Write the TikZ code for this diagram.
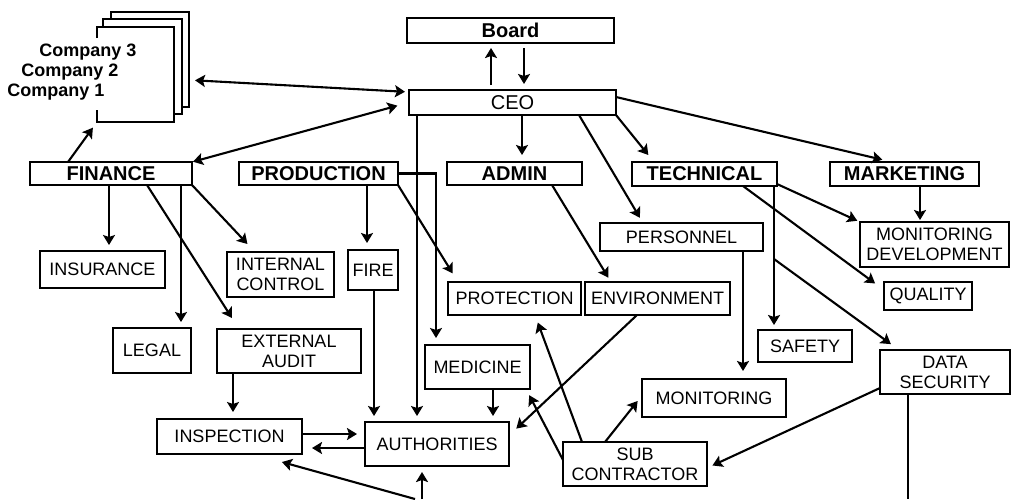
\documentclass[tikz,border=0pt]{standalone}
\usepackage{fontspec}
\setmainfont{Liberation Sans}
\usetikzlibrary{arrows.meta}
\begin{document}
\begin{tikzpicture}[x=1pt,y=-1pt,
  bx/.style 2 args={minimum width=#1pt, minimum height=#2pt},
  box/.style={draw, fill=white, line width=1.9pt, inner sep=0pt, outer sep=0pt, align=center, font=\fontsize{18}{20}\selectfont},
  head/.style={box, font=\fontsize{20}{22}\selectfont\bfseries},
  page/.style={fill=white, line width=1.9pt, inner sep=0pt, outer sep=0pt},
  comp/.style={font=\fontsize{18}{20}\selectfont\bfseries, inner sep=0pt},
  ln/.style={line width=2.1pt},
  arr/.style={ln, -{Stealth[length=10pt,width=12pt,inset=2pt]}},
  darr/.style={ln, {Stealth[length=10pt,width=12pt,inset=2pt]}-{Stealth[length=10pt,width=12pt,inset=2pt]}}
]
\useasboundingbox (0,0) rectangle (1011,499);
\fill[white] (0,0) rectangle (1011,499);

% company pages
\node[page, draw, bx={78}{95}] (page3) at (150,59.5) {};
\node[page, draw, bx={79}{95}] (page2) at (142.5,66.5) {};
\node[page, bx={77}{95}] (page1) at (135.5,74.5) {};
\draw[line width=1.9pt] ([yshift=-11pt]page1.north west) -- (page1.north west) -- (page1.north east) -- (page1.south east) -- (page1.south west) -- ([yshift=12pt]page1.south west);
\node[comp] (c3) at (88,52) {Company 3};
\node[comp] (c2) at (70,72) {Company 2};
\node[comp] (c1) at (56,92) {Company 1};

% boxes
\node[head, bx={207}{25}] (board) at (510.5,30.5) {Board};
\node[box, bx={207}{25}, font=\fontsize{20}{22}\selectfont] (ceo) at (512.5,102.5) {CEO};
\node[head, bx={162}{23}] (fin) at (111,173.5) {FINANCE};
\node[head, bx={159}{23}] (prod) at (318.5,173.5) {PRODUCTION};
\node[head, bx={135}{23}] (admin) at (514.5,173.5) {ADMIN};
\node[head, bx={145}{24}] (tech) at (704.5,174) {TECHNICAL};
\node[head, bx={149}{24}] (mkt) at (904.5,174) {MARKETING};
\node[box, bx={125}{37}] (ins) at (102.5,269.5) {INSURANCE};
\node[box, bx={107}{45}] (ic) at (280.5,274.5) {INTERNAL\\CONTROL};
\node[box, bx={50}{40}] (fire) at (373,270) {FIRE};
\node[box, bx={78}{45}] (legal) at (152,350.5) {LEGAL};
\node[box, bx={144}{44}] (ea) at (289,351) {EXTERNAL\\AUDIT};
\node[box, bx={133}{33}] (prot) at (514.5,298.5) {PROTECTION};
\node[box, bx={145}{33}] (env) at (657.5,298.5) {ENVIRONMENT};
\node[box, bx={163}{28}] (pers) at (681.5,237) {PERSONNEL};
\node[box, bx={149}{45}] (md) at (934.5,244.5) {MONITORING\\DEVELOPMENT};
\node[box, bx={88}{28}] (qual) at (928,296) {QUALITY};
\node[box, bx={94}{32}] (safety) at (805,346) {SAFETY};
\node[box, bx={130}{44}] (ds) at (945,372) {DATA\\SECURITY};
\node[box, bx={105}{44}] (med) at (477.5,367) {MEDICINE};
\node[box, bx={144}{38}] (mon) at (714,398) {MONITORING};
\node[box, bx={144}{44}] (auth) at (437,444) {AUTHORITIES};
\node[box, bx={145}{35}] (insp) at (229.5,436.5) {INSPECTION};
\node[box, bx={144}{44}] (sub) at (635,464) {SUB\\CONTRACTOR};

\coordinate (lowA) at (422,499);
\coordinate (lowB) at (415,499);
\coordinate (dsend) at (908,499);
\coordinate (tbranch) at (774,259);

% connectors
\draw[darr, shorten <=6pt, shorten >=4pt] (page3.east |- 0,80) -- (ceo.west |- 0,92);
\draw[darr, shorten <=1pt, shorten >=12pt] (fin.north east) -- (ceo.west |- 0,102.5);
\draw[arr, shorten >=7pt] (fin.north -| 68,0) -- (page1.south west);
\draw[arr, shorten <=5pt, shorten >=5pt] (ceo.north -| 491,0) -- (board.south -| 491,0);
\draw[arr, shorten <=5pt, shorten >=6pt] (board.south -| 524,0) -- (ceo.north -| 524,0);
\draw[arr, shorten >=7pt] (ceo.south -| 522,0) -- (admin.north -| 522,0);
\draw[arr, shorten >=9pt] (ceo.south east) -- (tech.north -| 654,0);
\draw[arr, shorten >=6pt] (ceo.south -| 579,0) -- (pers.north -| 643,0);
\draw[arr, shorten >=10pt] (ceo.east |- 0,97) -- (mkt.north -| 892,0);
\draw[arr, shorten >=6pt] (ceo.south -| 417,0) -- (auth.north -| 417,0);
\draw[arr, shorten >=7pt] (prod.east) -| (med.north -| 436,0);
\draw[arr, shorten >=7pt] (prod.south -| 367,0) -- (fire.north -| 367,0);
\draw[arr, shorten >=10pt] (prod.south east) -- (prot.north -| 458,0);
\draw[arr, shorten >=6pt] (fire.south -| 374,0) -- (auth.north -| 374,0);
\draw[arr, shorten >=6pt] (med.south -| 493,0) -- (auth.north -| 493,0);
\draw[arr, shorten >=5pt] (admin.south -| 552,0) -- (env.north -| 611,0);
\draw[arr, shorten >=8pt] (pers.south -| 743,0) -- (mon.north -| 743,0);
\draw[arr, shorten >=5pt] (tech.south -| 774,0) -- (safety.north -| 774,0);
\draw[arr, shorten >=10pt] (tbranch) -- (ds.north -| 899,0);
\draw[arr, shorten >=3pt] (tech.east |- 0,184) -- (md.north west);
\draw[arr, shorten >=11pt] (tech.south -| 743,0) -- (qual.west |- 0,290);
\draw[arr, shorten >=2pt] (mkt.south -| 920,0) -- (md.north -| 920,0);
\draw[ln] (ds.south -| 908,0) -- (dsend);
\draw[arr, shorten >=6pt] (ds.west |- 0,388) -- (sub.east |- 0,468);
\draw[arr, shorten >=7pt] (sub.north -| 605,0) -- (mon.west |- 0,395.5);
\draw[arr, shorten >=8pt] (sub.north -| 582,0) -- (prot.south -| 535,0);
\draw[arr, shorten >=7pt] (sub.west |- 0,460) -- (med.south -| 526,0);
\draw[arr, shorten >=10pt] (env.south -| 637,0) -- (auth.east |- 0,435.5);
\draw[arr, shorten >=8pt] (insp.east |- 0,434) -- (auth.west |- 0,434);
\draw[arr, shorten >=10pt] (auth.west |- 0,448) -- (insp.east |- 0,448);
\draw[arr, shorten >=6pt] (lowA) -- (auth.south -| 422,0);
\draw[arr, shorten >=30pt] (lowB) -- (insp.south -| 253,0);
\draw[arr, shorten >=6pt] (fin.south -| 109,0) -- (ins.north -| 109,0);
\draw[arr, shorten >=6pt] (fin.south -| 181,0) -- (legal.north -| 181,0);
\draw[arr, shorten >=13pt] (fin.south -| 147,0) -- (ea.north -| 239,0);
\draw[arr, shorten >=11pt] (fin.south east) -- (ic.north -| 255,0);
\draw[arr, shorten >=7pt] (ea.south -| 233,0) -- (insp.north -| 233,0);
\end{tikzpicture}
\end{document}
